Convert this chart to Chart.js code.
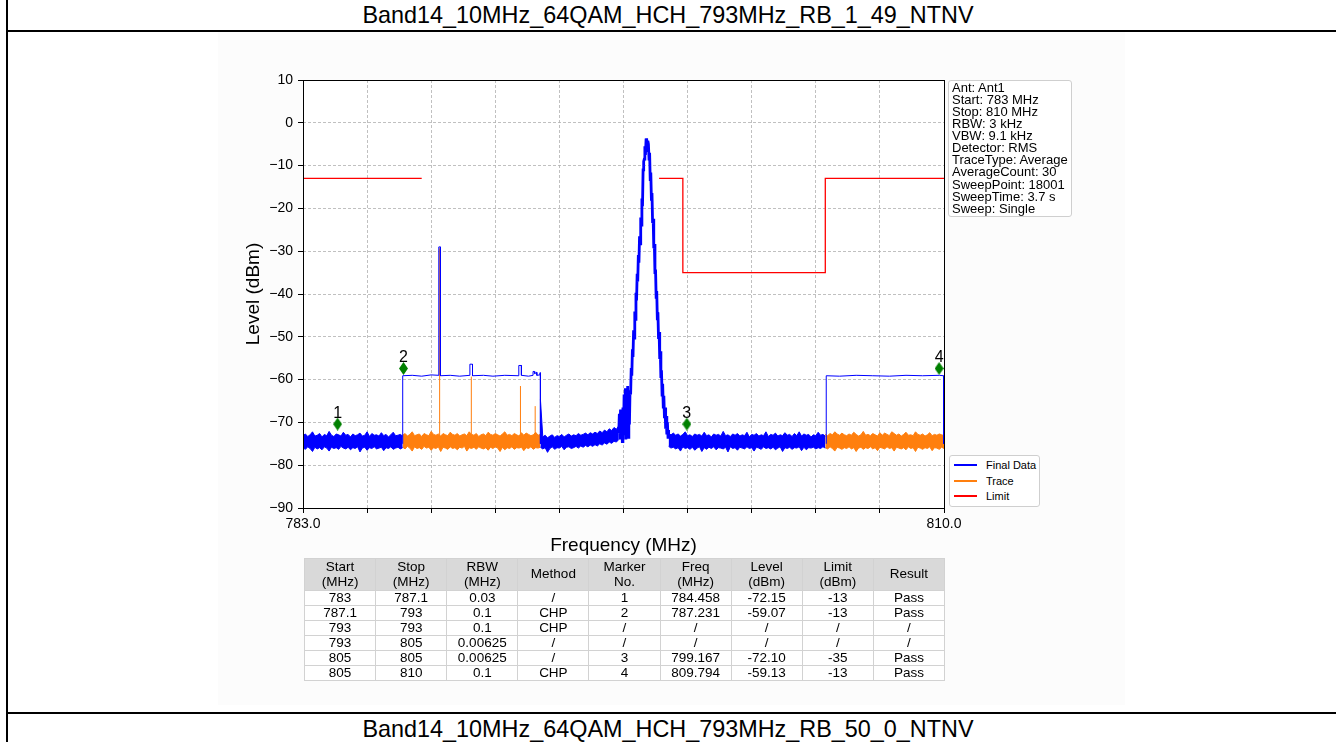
<!DOCTYPE html>
<html>
<head>
<meta charset="utf-8">
<title>Band14 spectrum</title>
<script src="https://cdn.jsdelivr.net/npm/chart.js@4.4.1/dist/chart.umd.min.js"></script>
<style>
  html, body { margin: 0; padding: 0; background: #fff; }
  body { width: 1336px; height: 742px; position: relative; overflow: hidden;
         font-family: "Liberation Sans", Arial, Helvetica, sans-serif; color: #000; }
  .caption { position: absolute; left: 0; width: 1336px; text-align: center; font-size: 23.4px; line-height: 26px; }
  #topCaption { top: 2px; }
  #bottomCaption { top: 716px; }
  .rule { position: absolute; left: 6px; width: 1330px; height: 2px; background: #000; }
  #leftRule { position: absolute; left: 6px; top: 0; width: 2px; height: 742px; background: #000; }
  #figure { position: absolute; left: 218px; top: 32px; width: 907px; height: 673px; background: #fcfcfc; }
  #chart { position: absolute; left: 0; top: 0; }
  #info { position: absolute; left: 730px; top: 48px; width: 119px; padding: 1px 0 1px 3px;
          background: #fff; border: 1px solid #cfcfcf; border-radius: 3px;
          font-size: 13px; line-height: 12.07px; white-space: nowrap; }
  #legend { position: absolute; left: 731px; top: 423px; width: 89px; height: 50px;
            background: #fff; border: 1px solid #cfcfcf; border-radius: 3px; font-size: 11px; }
  #legend div { position: absolute; left: 0; height: 14px; line-height: 14px; white-space: nowrap; }
  #legend span.swatch { position: absolute; left: 4px; top: 6px; width: 23px; height: 2px; }
  #legend span.name { position: absolute; left: 36px; top: 0; }
  #results { position: absolute; left: 304px; top: 558px; width: 641px; border-collapse: collapse;
             table-layout: fixed; font-size: 13.5px; }
  #results th, #results td { border: 1px solid #d2d2d2; text-align: center; padding: 0; font-weight: normal; }
  #results th { background: #d9d9d9; height: 31px; line-height: 14.5px; }
  #results td { height: 14px; line-height: 14px; background: #fff; }
</style>
</head>
<body>
<div id="leftRule"></div>
<div class="caption" id="topCaption">Band14_10MHz_64QAM_HCH_793MHz_RB_1_49_NTNV</div>
<div class="rule" style="top:30px"></div>
<div id="figure">
  <canvas id="chart" width="907" height="673"></canvas>
  <div id="info"></div>
  <div id="legend"></div>
</div>
<table id="results"></table>
<div class="rule" style="top:712px"></div>
<div class="caption" id="bottomCaption">Band14_10MHz_64QAM_HCH_793MHz_RB_50_0_NTNV</div>

<script>
const FONT = '"Liberation Sans", Arial, Helvetica, sans-serif';

const sweepInfo = ['Ant: Ant1', 'Start: 783 MHz', 'Stop: 810 MHz', 'RBW: 3 kHz', 'VBW: 9.1 kHz',
  'Detector: RMS', 'TraceType: Average', 'AverageCount: 30', 'SweepPoint: 18001',
  'SweepTime: 3.7 s', 'Sweep: Single'];

const seriesNames = ['Final Data', 'Trace', 'Limit'];
const seriesColors = ['#0000ff', '#ff7f0e', '#ff0000'];

const yTicks = [-90, -80, -70, -60, -50, -40, -30, -20, -10, 0, 10];
const xTicks = [783, 785.7, 788.4, 791.1, 793.8, 796.5, 799.2, 801.9, 804.6, 807.3, 810];
const xTickLabels = ['783.0', '', '', '', '', '', '', '', '', '', '810.0'];

// limit line [MHz, dBm], null = no limit drawn
const limitLine = [[783, -13], [788, -13], [793, null], [798, -13], [799, -13], [799, -35],
  [805, -35], [805, -13], [810, -13]];

// final data where the CHP result replaces the trace (thin blue steps)
const finalSteps = [[787.2, -75.0], [787.2, -59.1], [787.6, -59.0], [788.0, -59.2], [788.4, -58.9],
  [788.72, -59.0], [788.72, -29.0], [788.79, -29.0], [788.79, -59.1], [789.2, -59.0], [789.6, -59.2],
  [790.03, -59.0], [790.03, -56.4], [790.14, -56.4], [790.14, -59.1], [790.6, -59.0], [791.0, -59.2],
  [791.5, -59.0], [792.09, -59.1], [792.09, -56.7], [792.2, -56.7], [792.2, -59.0], [792.5, -59.2],
  [792.69, -59.0], [792.69, -58.1], [792.74, -58.1], [792.76, -58.6], [792.84, -58.3], [792.85, -59.0],
  [792.98, -58.9], [792.98, -58.4], [793.0, -58.4], [793.0, -75.0], [799.0, null],
  [805.04, -75.0], [805.04, -59.1], [805.6, -59.2], [806.3, -59.0], [807.0, -59.1], [807.7, -59.2],
  [808.4, -59.0], [809.1, -59.1], [809.8, -59.0], [809.98, -59.1], [809.98, -75.0]];

// carrier, one reading every 0.025 MHz from 796.3 MHz
const peakStart = 796.3;
const peakLevels = [-72.5, -68.0, -74.0, -67.0, -73.5, -68.5, -74.5, -66.5,
  -73.0, -63.5, -72.0, -62.0, -74.0, -64.5, -71.5, -61.5, -73.5, -63.0, -70.5, -62.5,
  -63.5, -57.3, -59.1, -52.9, -54.7, -48.5, -50.3, -44.1, -45.9, -39.7, -41.5, -35.3, -37.1,
  -30.9, -32.7, -26.5, -28.3, -22.1, -23.9, -17.7, -19.5, -11.0, -9.0, -8.5, -5.5, -7.5, -4.0,
  -3.6, -6.5, -4.2, -5.0,
  -8.5, -7.0, -13.3, -11.6, -17.9, -16.4, -23.4, -22.4, -29.3, -28.3, -35.3, -34.3, -40.8, -39.3,
  -45.8, -44.3, -50.5, -48.9, -55.2, -53.4, -59.6, -57.8, -63.6, -61.0, -66.4, -63.8, -69.0, -66.5,
  -71.5, -68.5, -72.8, -70.0, -73.5, -71.8];

// noise floor, upper and lower edge of the band, one reading every 0.1 MHz
const noiseStep = 0.1;
const finalLowStart = 783.0;
const finalLowTop = [-73.1, -72.7, -73.3, -72.9, -72.2, -73.2, -73.0, -72.6, -73.4, -72.8,
  -73.1, -72.1, -73.0, -73.3, -72.7, -72.9, -73.2, -72.3, -73.0, -72.8,
  -73.4, -72.7, -73.1, -72.9, -72.5, -73.2, -73.0, -72.2, -73.3, -72.6,
  -73.0, -72.9, -73.2, -72.4, -73.1, -72.8, -73.4, -72.9, -72.3, -73.1,
  -73.0, -72.8, -73.2];
const finalLowBottom = [-75.9, -76.3, -75.7, -76.1, -76.8, -75.8, -76.2, -75.9, -76.4, -75.7,
  -76.0, -76.7, -75.8, -76.1, -75.9, -76.3, -75.6, -76.0, -76.2, -75.8,
  -76.4, -75.9, -76.1, -75.7, -76.9, -76.0, -75.8, -76.5, -75.9, -76.1,
  -75.7, -76.2, -76.0, -75.8, -76.6, -75.9, -76.1, -75.7, -76.3, -76.0,
  -75.8, -76.2, -75.9];

const traceLowStart = 787.2;
const traceLowTop = [-73.0, -72.6, -73.2, -72.8, -72.2, -73.1, -72.9, -72.7, -73.3, -72.6,
  -72.9, -73.1, -72.1, -72.8, -73.0, -72.7, -73.2, -72.6, -72.9, -73.1,
  -72.3, -72.8, -73.0, -72.6, -73.2, -72.9, -72.7, -73.1, -72.2, -72.8,
  -73.0, -72.6, -73.3, -72.9, -72.7, -73.1, -72.3, -72.8, -73.0, -72.6,
  -72.9, -73.2, -72.7, -72.2, -73.0, -72.8, -73.1, -72.6, -72.9, -73.2,
  -72.4, -73.0, -72.5, -72.8, -73.1, -72.9, -72.3, -73.0, -72.8];
const traceLowBottom = [-75.8, -76.2, -75.6, -76.0, -76.7, -75.7, -76.1, -75.9, -76.3, -75.6,
  -76.0, -75.8, -76.5, -75.9, -76.1, -75.7, -76.8, -75.8, -76.0, -76.3,
  -75.7, -76.1, -75.9, -76.4, -75.8, -76.0, -75.6, -76.7, -75.9, -76.1,
  -75.8, -76.3, -75.7, -76.0, -76.2, -75.9, -76.5, -75.8, -76.1, -75.7,
  -76.0, -76.8, -75.8, -76.4, -75.9, -76.1, -75.7, -76.3, -75.9, -76.0,
  -75.8, -76.6, -75.9, -76.1, -75.7, -76.3, -75.9, -76.0, -75.8];

const finalMidStart = 793.0;
const finalMidTop = [-64.6, -73.4, -73.0, -73.6, -73.2, -72.9, -73.5, -73.1, -73.3, -72.8,
  -73.4, -73.0, -72.7, -73.2, -72.9, -73.1, -72.6, -73.0, -72.8, -72.5,
  -72.9, -72.4, -72.7, -72.3, -72.6, -72.0, -72.4, -71.8, -72.2, -71.5,
  -71.9, -71.2, -71.6, -70.8];
const finalMidBottom = [-75.8, -76.2, -75.9, -77.0, -76.1, -75.7, -76.3, -75.9, -76.0, -75.6,
  -76.4, -75.8, -75.7, -76.1, -75.9, -75.6, -76.0, -75.5, -75.8, -75.4,
  -75.7, -75.3, -75.6, -75.2, -75.5, -75.0, -75.3, -74.8, -75.1, -74.6,
  -74.9, -74.4, -74.6, -74.0];

const finalHighStart = 798.4;
const finalHighTop = [-72.6, -72.9, -72.5, -73.0, -72.7, -73.2, -72.8, -72.2, -73.1, -72.9,
  -73.3, -72.7, -73.0, -72.8, -73.2, -72.3, -73.1, -72.9, -73.4, -72.7,
  -73.0, -72.8, -73.2, -72.1, -73.1, -72.9, -73.3, -72.7, -73.0, -72.6,
  -73.2, -72.9, -73.1, -72.3, -73.4, -72.8, -73.0, -72.6, -73.2, -72.9,
  -73.1, -72.2, -73.3, -72.8, -73.0, -72.5, -73.2, -72.9, -73.1, -72.4,
  -73.0, -72.8, -73.3, -72.6, -73.1, -72.2, -73.2, -72.7, -73.0, -72.8,
  -73.4, -72.9, -73.1, -72.3, -73.0, -72.8, -73.2];
const finalHighBottom = [-75.6, -76.0, -75.8, -76.2, -75.9, -76.7, -75.7, -76.1, -75.9, -76.3,
  -75.8, -76.5, -76.0, -75.7, -76.8, -75.9, -76.3, -75.8, -76.1, -75.7,
  -76.4, -75.9, -76.0, -76.2, -75.8, -76.9, -75.7, -76.1, -75.9, -76.5,
  -75.8, -76.0, -76.2, -75.7, -76.1, -75.9, -76.7, -75.8, -76.0, -76.3,
  -75.7, -76.1, -75.9, -76.2, -75.8, -76.4, -76.0, -75.7, -76.8, -75.9,
  -76.1, -75.8, -76.3, -75.9, -76.0, -75.7, -76.6, -75.8, -76.4, -75.9,
  -76.0, -75.8, -76.2, -75.9, -76.1, -75.7, -76.0];

const traceHighStart = 805.0;
const traceHighTop = [-72.8, -73.1, -72.6, -72.9, -72.2, -72.7, -73.0, -72.5, -72.9, -73.1,
  -72.7, -73.0, -72.3, -72.8, -73.2, -72.9, -72.1, -73.0, -72.8, -73.1,
  -72.6, -72.9, -73.2, -72.4, -73.0, -72.5, -72.8, -73.1, -72.2, -72.6,
  -73.0, -72.7, -73.2, -72.8, -72.3, -73.0, -72.9, -73.1, -72.2, -72.8,
  -73.0, -72.7, -73.2, -72.9, -72.4, -73.1, -72.8, -73.0, -72.7, -72.9, -73.1];
const traceHighBottom = [-75.9, -76.2, -75.7, -76.1, -76.7, -75.8, -76.0, -76.3, -75.9, -76.1,
  -75.7, -76.2, -75.9, -76.8, -76.0, -75.8, -76.3, -75.9, -76.1, -75.7,
  -76.2, -75.9, -76.6, -75.8, -76.0, -76.2, -75.7, -76.1, -75.9, -76.7,
  -75.8, -76.0, -76.2, -75.9, -76.4, -75.7, -76.1, -75.9, -76.8, -75.8,
  -76.0, -76.3, -75.9, -76.1, -75.7, -76.6, -75.9, -76.0, -76.3, -75.8, -76.1];

// spurs in the trace [MHz, dBm]
const traceSpurs = [[788.755, -74.0], [788.755, -29.3], [789.5, null], [790.09, -74.0], [790.09, -59.3],
  [791.0, null], [792.16, -74.0], [792.16, -61.5], [792.5, null], [792.78, -74.0], [792.78, -66.2]];

const markerNames = ['1', '2', '3', '4'];
const markerFreq = [784.458, 787.231, 799.167, 809.794];
const markerPlotLevel = [-70.4, -57.4, -70.4, -57.4];

const tableHead = [['Start', '(MHz)'], ['Stop', '(MHz)'], ['RBW', '(MHz)'], ['Method'], ['Marker', 'No.'],
  ['Freq', '(MHz)'], ['Level', '(dBm)'], ['Limit', '(dBm)'], ['Result']];
const tableRows = [
  ['783', '787.1', '0.03', '/', '1', '784.458', '-72.15', '-13', 'Pass'],
  ['787.1', '793', '0.1', 'CHP', '2', '787.231', '-59.07', '-13', 'Pass'],
  ['793', '793', '0.1', 'CHP', '/', '/', '/', '/', '/'],
  ['793', '805', '0.00625', '/', '/', '/', '/', '/', '/'],
  ['805', '805', '0.00625', '/', '3', '799.167', '-72.10', '-35', 'Pass'],
  ['805', '810', '0.1', 'CHP', '4', '809.794', '-59.13', '-13', 'Pass']];

function sweep(start, step, levels) {
  return levels.map((y, i) => ({ x: +(start + i * step).toFixed(3), y: y }));
}
function pairs(list) {
  return list.map(p => ({ x: p[0], y: p[1] }));
}

const blue = seriesColors[0], orange = seriesColors[1], red = seriesColors[2];

// thin diamond like matplotlib's 'd' marker
const diamond = document.createElement('canvas');
diamond.width = 9;
diamond.height = 13;
(function () {
  const c = diamond.getContext('2d');
  c.fillStyle = '#008000';
  c.beginPath();
  c.moveTo(4.5, 0); c.lineTo(9, 6.5); c.lineTo(4.5, 13); c.lineTo(0, 6.5);
  c.closePath();
  c.fill();
})();

const datasets = [];
datasets.push({
  label: 'Marker', data: markerFreq.map((f, i) => ({ x: f, y: markerPlotLevel[i] })),
  showLine: false, pointStyle: diamond, pointRadius: 6, order: 0
});
datasets.push({ label: 'Limit', data: pairs(limitLine), borderColor: red, borderWidth: 1.3, order: 1 });
datasets.push({ label: 'Final Data', data: pairs(finalSteps), borderColor: blue, borderWidth: 1, order: 2 });
datasets.push({ label: 'Final Data', data: sweep(peakStart, 0.025, peakLevels), borderColor: blue, borderWidth: 2.8, order: 3 });
datasets.push({ label: 'Trace', data: pairs(traceSpurs), borderColor: orange, borderWidth: 1, order: 5 });

const noiseBands = [
  [finalLowStart, finalLowTop, finalLowBottom, blue, 4],
  [traceLowStart, traceLowTop, traceLowBottom, orange, 6],
  [finalMidStart, finalMidTop, finalMidBottom, blue, 4],
  [finalHighStart, finalHighTop, finalHighBottom, blue, 4],
  [traceHighStart, traceHighTop, traceHighBottom, orange, 6]
];
noiseBands.forEach(b => {
  datasets.push({ data: sweep(b[0], noiseStep, b[1]), borderColor: b[3], borderWidth: 1, fill: false, order: b[4] });
  datasets.push({ data: sweep(b[0], noiseStep, b[2]), borderColor: b[3], borderWidth: 1,
    backgroundColor: b[3], fill: '-1', order: b[4] });
});

const plotBackground = {
  id: 'plotBackground',
  beforeDraw(chart) {
    const a = chart.chartArea, ctx = chart.ctx;
    ctx.save();
    ctx.fillStyle = '#ffffff';
    ctx.fillRect(a.left, a.top, a.right - a.left, a.bottom - a.top);
    ctx.restore();
  }
};

const frame = {
  id: 'frame',
  afterDraw(chart) {
    const a = chart.chartArea, ctx = chart.ctx;
    ctx.save();
    ctx.strokeStyle = '#000';
    ctx.lineWidth = 1;
    ctx.strokeRect(Math.round(a.left) + 0.5, Math.round(a.top) + 0.5,
      Math.round(a.right - a.left), Math.round(a.bottom - a.top));
    ctx.restore();
  }
};

const markerLabels = {
  id: 'markerLabels',
  afterDatasetsDraw(chart) {
    const ctx = chart.ctx;
    const meta = chart.getDatasetMeta(0);
    ctx.save();
    ctx.fillStyle = '#000';
    ctx.font = '16px ' + FONT;
    ctx.textAlign = 'center';
    ctx.textBaseline = 'alphabetic';
    meta.data.forEach((pt, i) => ctx.fillText(markerNames[i], pt.x, pt.y - 6.5));
    ctx.restore();
  }
};

const tickFont = { family: FONT, size: 14 };
const titleFont = { family: FONT, size: 19 };

new Chart(document.getElementById('chart').getContext('2d'), {
  type: 'line',
  data: { datasets: datasets },
  options: {
    responsive: false,
    devicePixelRatio: 1,
    animation: false,
    events: [],
    layout: { padding: { left: 20, right: 181, top: 48, bottom: 144 } },
    elements: { point: { radius: 0 }, line: { tension: 0 } },
    plugins: { legend: { display: false }, tooltip: { enabled: false } },
    scales: {
      x: {
        type: 'linear', min: 783, max: 810,
        afterBuildTicks: s => { s.ticks = xTicks.map(v => ({ value: v })); },
        afterFit: s => { s.height = 53; },
        ticks: { autoSkip: false, maxRotation: 0, padding: 3, color: '#000', font: tickFont,
          callback: (v, i) => xTickLabels[i] },
        grid: { color: '#b0b0b0', lineWidth: 0.8, tickColor: '#000', tickLength: 5, tickWidth: 1 },
        border: { display: false, dash: [3, 2] },
        title: { display: true, text: 'Frequency (MHz)', color: '#000', font: titleFont }
      },
      y: {
        min: -90, max: 10,
        afterBuildTicks: s => { s.ticks = yTicks.map(v => ({ value: v })); },
        afterFit: s => { s.width = 65; },
        ticks: { padding: 5, color: '#000', font: tickFont,
          callback: v => (v < 0 ? '\u2212' + Math.abs(v) : String(v)) },
        grid: { color: '#b0b0b0', lineWidth: 0.8, tickColor: '#000', tickLength: 5, tickWidth: 1 },
        border: { display: false, dash: [3, 2] },
        title: { display: true, text: 'Level (dBm)', color: '#000', font: titleFont }
      }
    }
  },
  plugins: [plotBackground, frame, markerLabels]
});

// sweep settings box
document.getElementById('info').innerHTML = sweepInfo.map(t => '<div>' + t + '</div>').join('');

// legend
document.getElementById('legend').innerHTML = seriesNames.map((n, i) =>
  '<div style="top:' + (2 + i * 15.5) + 'px;width:89px"><span class="swatch" style="background:' +
  seriesColors[i] + '"></span><span class="name">' + n + '</span></div>').join('');

// result table
const head = '<tr>' + tableHead.map(h => '<th>' + h.join('<br>') + '</th>').join('') + '</tr>';
const body = tableRows.map(r => '<tr>' + r.map(c => '<td>' + c + '</td>').join('') + '</tr>').join('');
document.getElementById('results').innerHTML = head + body;
</script>
</body>
</html>
